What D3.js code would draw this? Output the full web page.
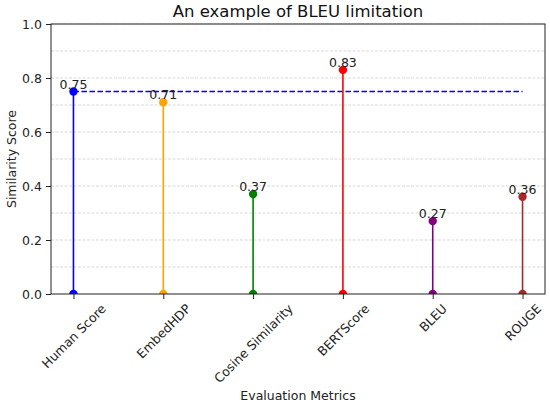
<!DOCTYPE html>
<html>
<head>
<meta charset="utf-8">
<script src="https://cdn.jsdelivr.net/npm/d3@7"></script>
<style>
  body { margin: 0; background: #fff; }
  text { font-family: "DejaVu Sans", sans-serif; }
</style>
</head>
<body>
<div id="chart"></div>
<script>
// chart data
var metrics = ["Human Score", "EmbedHDP", "Cosine Similarity", "BERTScore", "BLEU", "ROUGE"];
var scores = [0.75, 0.71, 0.37, 0.83, 0.27, 0.36];
var colors = ["blue", "orange", "green", "red", "purple", "brown"];
var yTicks = [0.0, 0.2, 0.4, 0.6, 0.8, 1.0];
var gridValues = [0.1, 0.2, 0.3, 0.4, 0.5, 0.6, 0.7, 0.8, 0.9, 1.0];
var humanLevel = 0.75;

function init() {
    var w = 550;
    var h = 406;
    var left = 51, right = 545, top = 24, bottom = 294;
    var fs = 12.5; // label font size

    var svg = d3.select("#chart")
        .append("svg")
        .attr("width", w)
        .attr("height", h);

    var xScale = d3.scalePoint()
        .domain(metrics)
        .range([left, right])
        .padding(0.25);

    var yScale = d3.scaleLinear()
        .domain([0, 1])
        .range([bottom, top]);

    svg.append("defs").append("clipPath")
        .attr("id", "plotClip")
        .append("rect")
        .attr("x", left)
        .attr("y", top)
        .attr("width", right - left)
        .attr("height", bottom - top);

    // dashed grid
    svg.append("g")
        .selectAll("line")
        .data(gridValues)
        .enter()
        .append("line")
        .attr("x1", left)
        .attr("x2", right)
        .attr("y1", function (d) { return yScale(d); })
        .attr("y2", function (d) { return yScale(d); })
        .style("stroke", "#cfcfcf")
        .style("stroke-width", 0.8)
        .style("stroke-dasharray", "3,1.5");

    var plot = svg.append("g").attr("clip-path", "url(#plotClip)");

    // human score reference line
    plot.append("line")
        .attr("x1", xScale(metrics[0]))
        .attr("x2", xScale(metrics[metrics.length - 1]))
        .attr("y1", yScale(humanLevel))
        .attr("y2", yScale(humanLevel))
        .style("stroke", "blue")
        .style("stroke-width", 1.6)
        .style("stroke-dasharray", "5.5,2.5");

    // stems
    plot.selectAll(".stem")
        .data(metrics)
        .enter()
        .append("line")
        .attr("class", "stem")
        .attr("x1", function (d) { return xScale(d); })
        .attr("x2", function (d) { return xScale(d); })
        .attr("y1", yScale(0))
        .attr("y2", function (d, i) { return yScale(scores[i]); })
        .style("stroke", function (d, i) { return colors[i]; })
        .style("stroke-width", 1.6);

    // base markers
    plot.selectAll(".base")
        .data(metrics)
        .enter()
        .append("circle")
        .attr("class", "base")
        .attr("cx", function (d) { return xScale(d); })
        .attr("cy", yScale(0))
        .attr("r", 4.2)
        .style("fill", function (d, i) { return colors[i]; });

    // top markers
    plot.selectAll(".head")
        .data(metrics)
        .enter()
        .append("circle")
        .attr("class", "head")
        .attr("cx", function (d) { return xScale(d); })
        .attr("cy", function (d, i) { return yScale(scores[i]); })
        .attr("r", 4.2)
        .style("fill", function (d, i) { return colors[i]; });

    // value labels
    svg.selectAll(".val")
        .data(metrics)
        .enter()
        .append("text")
        .attr("class", "val")
        .attr("x", function (d) { return xScale(d); })
        .attr("y", function (d, i) { return yScale(scores[i]) - 3; })
        .attr("text-anchor", "middle")
        .style("font-size", fs + "px")
        .style("fill", "#222")
        .text(function (d, i) { return scores[i].toFixed(2); });

    // axes
    var yAxis = d3.axisLeft(yScale)
        .tickValues(yTicks)
        .tickFormat(d3.format(".1f"))
        .tickSize(5)
        .tickPadding(4);

    var gy = svg.append("g")
        .attr("transform", "translate(" + left + ",0)")
        .call(yAxis);
    gy.select(".domain").remove();
    gy.selectAll("text").style("font-size", fs + "px").style("fill", "#222");
    gy.selectAll("line").style("stroke", "#222");

    var xAxis = d3.axisBottom(xScale)
        .tickSize(5)
        .tickPadding(4);

    var gx = svg.append("g")
        .attr("transform", "translate(0," + bottom + ")")
        .call(xAxis);
    gx.select(".domain").remove();
    gx.selectAll("line").style("stroke", "#222");
    // rotated labels centred under their tick, like matplotlib rotation=45
    gx.selectAll("text")
        .style("font-size", fs + "px")
        .style("fill", "#222")
        .attr("text-anchor", "middle")
        .attr("dy", "0.35em")
        .attr("y", 0)
        .attr("transform", function () {
            var len = this.getComputedTextLength();
            var half = (len + fs) * Math.SQRT1_2 / 2;
            return "translate(0," + (8 + half) + ") rotate(-45)";
        });

    // frame
    svg.append("rect")
        .attr("x", left)
        .attr("y", top)
        .attr("width", right - left)
        .attr("height", bottom - top)
        .style("fill", "none")
        .style("stroke", "#222")
        .style("stroke-width", 1);

    // titles
    svg.append("text")
        .attr("x", (left + right) / 2)
        .attr("y", 17)
        .attr("text-anchor", "middle")
        .style("font-size", "16.5px")
        .style("fill", "#111")
        .text("An example of BLEU limitation");

    svg.append("text")
        .attr("x", (left + right) / 2)
        .attr("y", 400)
        .attr("text-anchor", "middle")
        .style("font-size", fs + "px")
        .style("fill", "#222")
        .text("Evaluation Metrics");

    svg.append("text")
        .attr("transform", "translate(16," + ((top + bottom) / 2) + ") rotate(-90)")
        .attr("text-anchor", "middle")
        .style("font-size", fs + "px")
        .style("fill", "#222")
        .text("Similarity Score");
}

window.onload = init;
</script>
</body>
</html>
